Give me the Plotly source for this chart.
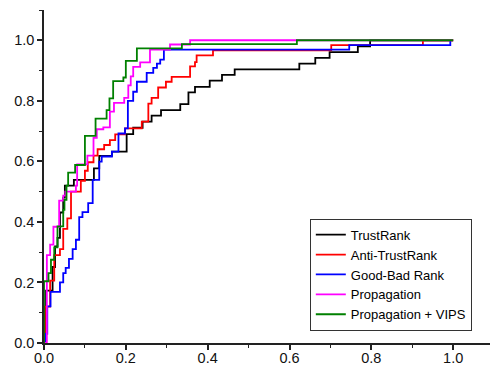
import plotly.graph_objects as go

series_names = ["TrustRank", "Anti-TrustRank", "Good-Bad Rank", "Propagation", "Propagation + VIPS"]

trustrank_fpr = [0, 0.005, 0.021, 0.027, 0.033, 0.039, 0.047, 0.051, 0.073, 0.122, 0.135, 0.166, 0.202, 0.218, 0.241, 0.263, 0.286, 0.333, 0.353, 0.369, 0.405, 0.435, 0.466, 0.624, 0.663, 0.698, 0.767, 0.797, 1.0]
trustrank_tpr = [0, 0.173, 0.251, 0.319, 0.347, 0.431, 0.48, 0.52, 0.539, 0.577, 0.618, 0.632, 0.69, 0.711, 0.731, 0.751, 0.769, 0.789, 0.828, 0.846, 0.867, 0.886, 0.904, 0.923, 0.942, 0.961, 0.98, 1.0, 1.0]

antitrust_fpr = [0, 0.002, 0.015, 0.025, 0.039, 0.047, 0.057, 0.066, 0.09, 0.1, 0.107, 0.121, 0.131, 0.147, 0.161, 0.174, 0.198, 0.239, 0.255, 0.263, 0.279, 0.298, 0.312, 0.357, 0.369, 0.373, 0.413, 0.702, 0.926, 1.0]
antitrust_tpr = [0, 0.12, 0.206, 0.29, 0.31, 0.377, 0.412, 0.5, 0.536, 0.569, 0.597, 0.619, 0.64, 0.654, 0.67, 0.689, 0.709, 0.731, 0.791, 0.81, 0.844, 0.863, 0.879, 0.914, 0.928, 0.95, 0.967, 0.984, 1.0, 1.0]

goodbad_fpr = [0, 0.004, 0.008, 0.016, 0.039, 0.047, 0.053, 0.061, 0.07, 0.078, 0.086, 0.094, 0.108, 0.119, 0.135, 0.141, 0.166, 0.182, 0.198, 0.205, 0.218, 0.227, 0.251, 0.267, 0.276, 0.284, 0.293, 0.746, 0.993]
goodbad_tpr = [0, 0.03, 0.121, 0.169, 0.2, 0.231, 0.248, 0.278, 0.31, 0.341, 0.416, 0.432, 0.462, 0.539, 0.599, 0.616, 0.632, 0.692, 0.709, 0.8, 0.83, 0.863, 0.892, 0.909, 0.923, 0.936, 0.969, 0.984, 0.998]

propagation_fpr = [0, 0.007, 0.015, 0.023, 0.037, 0.047, 0.052, 0.078, 0.081, 0.106, 0.121, 0.129, 0.145, 0.161, 0.171, 0.196, 0.206, 0.212, 0.218, 0.235, 0.259, 0.308, 0.357, 1.0]
propagation_tpr = [0, 0.29, 0.325, 0.384, 0.47, 0.487, 0.5, 0.52, 0.59, 0.619, 0.678, 0.706, 0.712, 0.764, 0.793, 0.81, 0.851, 0.881, 0.912, 0.927, 0.969, 0.986, 1.0, 1.0]

vips_fpr = [0, 0, 0.011, 0.017, 0.025, 0.033, 0.047, 0.05, 0.055, 0.059, 0.076, 0.1, 0.126, 0.153, 0.16, 0.169, 0.194, 0.2, 0.227, 0.337, 0.618, 1.0]
vips_tpr = [0, 0.204, 0.231, 0.275, 0.316, 0.385, 0.44, 0.473, 0.52, 0.563, 0.588, 0.684, 0.741, 0.769, 0.808, 0.865, 0.877, 0.932, 0.973, 0.987, 1.0, 1.0]

x_tick_vals = [0.0, 0.2, 0.4, 0.6, 0.8, 1.0]
x_tick_text = ["0.0", "0.2", "0.4", "0.6", "0.8", "1.0"]
y_tick_vals = [0.0, 0.2, 0.4, 0.6, 0.8, 1.0]
y_tick_text = ["0.0", "0.2", "0.4", "0.6", "0.8", "1.0"]

colors = ["#000000", "#FF0000", "#0000FF", "#FF00FF", "#008000"]
data = [
    (trustrank_fpr, trustrank_tpr),
    (antitrust_fpr, antitrust_tpr),
    (goodbad_fpr, goodbad_tpr),
    (propagation_fpr, propagation_tpr),
    (vips_fpr, vips_tpr),
]

fig = go.Figure()
for name, (xs, ys), c in zip(series_names, data, colors):
    fig.add_trace(go.Scatter(x=xs, y=ys, mode="lines", name=name,
                             line=dict(color=c, width=1.8, shape="hv")))

axis_common = dict(
    showgrid=False, zeroline=False, showline=True, linecolor="#222222", linewidth=1.5,
    ticks="outside", ticklen=5, tickwidth=1.5, tickcolor="#222222", automargin=False,
    tickfont=dict(family="Liberation Sans, Arial, sans-serif", size=14.5, color="#111111"),
    minor=dict(ticks="outside", ticklen=3, tickwidth=1.2, tickcolor="#222222", dtick=0.1),
)

fig.update_layout(
    width=490, height=368,
    margin=dict(l=44, r=0, t=10, b=25, autoexpand=False),
    plot_bgcolor="white", paper_bgcolor="white",
    xaxis=dict(range=[0, 1.09], tickvals=x_tick_vals, ticktext=x_tick_text,
               ticklabelstandoff=-4, **axis_common),
    yaxis=dict(range=[0, 1.1], tickvals=y_tick_vals, ticktext=y_tick_text, **axis_common),
    legend=dict(x=0.596, y=0.037, xanchor="left", yanchor="bottom",
                bordercolor="#333333", borderwidth=1, bgcolor="white",
                font=dict(family="Liberation Sans, Arial, sans-serif", size=13, color="#000000"),
                entrywidth=141, entrywidthmode="pixels",
                tracegroupgap=0),
    showlegend=True,
)

fig.write_html("out.html", config={"displayModeBar": False},
               post_script="document.body.style.margin='0px';document.body.style.overflow='hidden';")
